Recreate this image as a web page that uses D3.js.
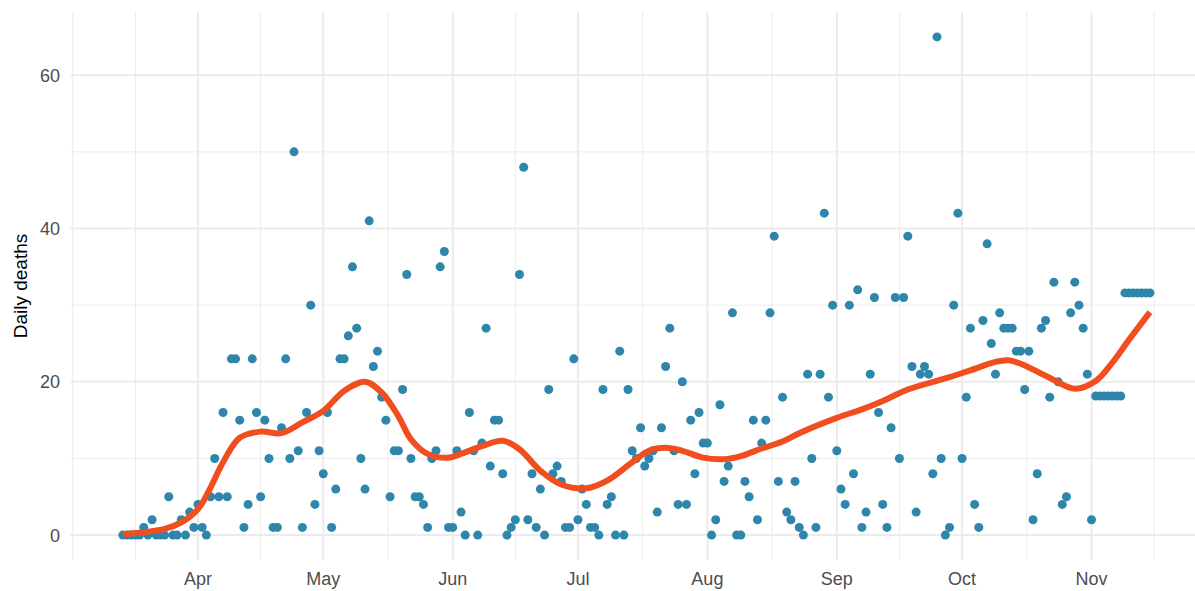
<!DOCTYPE html>
<html lang="en">
<head>
<meta charset="UTF-8">
<title>Daily deaths</title>
<script src="https://d3js.org/d3.v7.min.js"></script>
<style>
  body { margin: 0; background: white; font-family: "Liberation Sans", Arial, sans-serif; }
  svg { display: block; }
</style>
</head>
<body>
<div id="chart"></div>
<script>
// one value per day, starting at startDate
const startDate = "2020-03-14";
const deaths = [
  0, 0, 0, 0, 0, 1, 0, 2, 0, 0,
  0, 5, 0, 0, 2, 0, 3, 1, 4, 1,
  0, 5, 10, 5, 16, 5, 23, 23, 15, 1,
  4, 23, 16, 5, 15, 10, 1, 1, 14, 23,
  10, 50, 11, 1, 16, 30, 4, 11, 8, 16,
  1, 6, 23, 23, 26, 35, 27, 10, 6, 41,
  22, 24, 18, 15, 5, 11, 11, 19, 34, 10,
  5, 5, 4, 1, 10, 11, 35, 37, 1, 1,
  11, 3, 0, 16, 11, 0, 12, 27, 9, 15,
  15, 8, 0, 1, 2, 34, 48, 2, 8, 1,
  6, 0, 19, 8, 9, 7, 1, 1, 23, 2,
  6, 4, 1, 1, 0, 19, 4, 5, 0, 24,
  0, 19, 11, 10, 14, 9, 10, 11, 3, 14,
  22, 27, 11, 4, 20, 4, 15, 8, 16, 12,
  12, 0, 2, 17, 7, 9, 29, 0, 0, 7,
  5, 15, 2, 12, 15, 29, 39, 7, 18, 3,
  2, 7, 1, 0, 21, 10, 1, 21, 42, 18,
  30, 11, 6, 4, 30, 8, 32, 1, 3, 21,
  31, 16, 4, 1, 14, 31, 10, 31, 39, 22,
  3, 21, 22, 21, 8, 65, 10, 0, 1, 30,
  42, 10, 18, 27, 4, 1, 28, 38, 25, 21,
  29, 27, 27, 27, 24, 24, 19, 24, 2, 8,
  27, 28, 18, 33, 20, 4, 5, 29, 33, 30,
  27, 21, 2, 18.14, 18.14, 18.14, 18.14, 18.14, 18.14, 18.14,
  31.6, 31.6, 31.6, 31.6, 31.6, 31.6, 31.6
];

// smoothed trend
const trendDates = [
  "2020-03-14", "2020-03-24", "2020-03-28", "2020-04-01", "2020-04-04", "2020-04-07",
  "2020-04-11", "2020-04-16", "2020-04-21", "2020-04-26", "2020-05-01", "2020-05-06",
  "2020-05-11", "2020-05-15", "2020-05-19", "2020-05-22", "2020-05-26", "2020-05-31",
  "2020-06-03", "2020-06-08", "2020-06-13", "2020-06-17", "2020-06-22", "2020-06-27",
  "2020-07-03", "2020-07-08", "2020-07-14", "2020-07-18", "2020-07-22", "2020-07-26",
  "2020-07-31", "2020-08-05", "2020-08-09", "2020-08-14", "2020-08-19", "2020-08-23",
  "2020-09-01", "2020-09-07", "2020-09-12", "2020-09-18", "2020-09-28", "2020-10-03",
  "2020-10-12", "2020-10-21", "2020-10-28", "2020-11-02", "2020-11-06", "2020-11-10",
  "2020-11-15"
];
const trendValues = [
  0.1, 0.8, 1.65, 3.4, 6.2, 9.5,
  12.7, 13.5, 13.3, 14.7, 16.2, 18.8,
  20.0, 18.6, 15.5, 12.5, 10.6, 10.1,
  10.6, 11.6, 12.3, 11.2, 8.4, 6.6,
  6.1, 7.1, 9.5, 11.0, 11.4, 11.0,
  10.1, 9.9, 10.3, 11.3, 12.2, 13.3,
  15.3, 16.4, 17.5, 19.0, 20.6, 21.5,
  22.8, 20.8, 19.1, 20.1, 22.5, 25.5,
  29.1
];

const monthTicks = ["2020-04-01", "2020-05-01", "2020-06-01", "2020-07-01",
                    "2020-08-01", "2020-09-01", "2020-10-01", "2020-11-01"];
const monthLabels = ["Apr", "May", "Jun", "Jul", "Aug", "Sep", "Oct", "Nov"];
const yTicks = [0, 20, 40, 60];
const yMinor = [10, 30, 50];

const width = 1195, height = 591;
const panel = { left: 70.5, right: 1195, top: 12, bottom: 560 };

const parse = d3.utcParse("%Y-%m-%d");
const t0 = parse(startDate);
const points = deaths.map((v, i) => ({ date: d3.utcDay.offset(t0, i), value: v }));
const trend = trendDates.map((d, i) => ({ date: parse(d), value: trendValues[i] }));
const months = monthTicks.map(parse);

const x = d3.scaleUtc()
    .domain([months[0], months[months.length - 1]])
    .range([198, 1091.5]);
const y = d3.scaleLinear()
    .domain([-3.25, 68.25])
    .range([panel.bottom, panel.top]);

// minor x breaks: midpoints between month breaks, plus one step before
const step = months[1] - months[0];
const ext = [new Date(+months[0] - step), ...months, new Date(+months[months.length - 1] + step)];
const xMinor = [ext[0]];
for (let i = 0; i < ext.length - 1; i++) xMinor.push(new Date((+ext[i] + +ext[i + 1]) / 2));

const svg = d3.select("#chart").append("svg")
    .attr("width", width)
    .attr("height", height);

const grid = svg.append("g");
grid.selectAll(".xminor")
    .data(xMinor.filter(d => x(d) >= panel.left && x(d) <= panel.right))
    .enter().append("line")
    .attr("x1", d => x(d)).attr("x2", d => x(d))
    .attr("y1", panel.top).attr("y2", panel.bottom)
    .attr("stroke", "#ebebeb").attr("stroke-width", 1);
grid.selectAll(".yminor")
    .data(yMinor)
    .enter().append("line")
    .attr("x1", panel.left).attr("x2", panel.right)
    .attr("y1", d => y(d)).attr("y2", d => y(d))
    .attr("stroke", "#ebebeb").attr("stroke-width", 1);
grid.selectAll(".xmajor")
    .data(months)
    .enter().append("line")
    .attr("x1", d => x(d)).attr("x2", d => x(d))
    .attr("y1", panel.top).attr("y2", panel.bottom)
    .attr("stroke", "#ebebeb").attr("stroke-width", 2);
grid.selectAll(".ymajor")
    .data(yTicks)
    .enter().append("line")
    .attr("x1", panel.left).attr("x2", panel.right)
    .attr("y1", d => y(d)).attr("y2", d => y(d))
    .attr("stroke", "#ebebeb").attr("stroke-width", 2);

// axis labels
svg.append("g").selectAll("text")
    .data(yTicks)
    .enter().append("text")
    .attr("x", 60)
    .attr("y", d => y(d))
    .attr("dy", "0.36em")
    .attr("text-anchor", "end")
    .attr("fill", "#4d4d4d")
    .attr("font-size", 18)
    .text(d => d);

svg.append("g").selectAll("text")
    .data(months)
    .enter().append("text")
    .attr("x", d => x(d))
    .attr("y", 585)
    .attr("text-anchor", "middle")
    .attr("fill", "#4d4d4d")
    .attr("font-size", 18)
    .text((d, i) => monthLabels[i]);

svg.append("text")
    .attr("transform", `translate(27,${(panel.top + panel.bottom) / 2}) rotate(-90)`)
    .attr("text-anchor", "middle")
    .attr("fill", "#000")
    .attr("font-size", 19)
    .text("Daily deaths");

// points
svg.append("g").selectAll("circle")
    .data(points)
    .enter().append("circle")
    .attr("cx", d => x(d.date))
    .attr("cy", d => y(d.value))
    .attr("r", 4.5)
    .attr("fill", "#2e86ab");

// smooth trend
const line = d3.line()
    .x(d => x(d.date))
    .y(d => y(d.value))
    .curve(d3.curveCatmullRom.alpha(0.5));

svg.append("path")
    .datum(trend)
    .attr("d", line)
    .attr("fill", "none")
    .attr("stroke", "#f04e1e")
    .attr("stroke-width", 6);
</script>
</body>
</html>
